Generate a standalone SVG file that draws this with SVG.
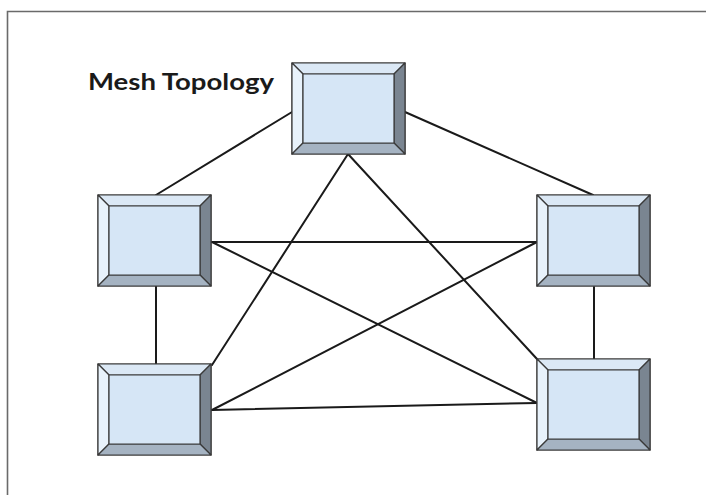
<svg xmlns="http://www.w3.org/2000/svg" width="706" height="495" viewBox="0 0 706 495">
<style>
.o{stroke:#3a3a3a;stroke-width:1.2;stroke-linejoin:round}
.t{fill:#dbe8f5}.l{fill:#e8f2fb}.r{fill:#7a8591}.b{fill:#a5b3c2}.c{fill:#d6e6f6}
.e{stroke:#1a1a1a;stroke-width:2;fill:none;stroke-linecap:round}
</style>
<defs>
<g id="node">
<rect class="o" x="0" y="0" width="113" height="91" fill="#d6e6f6"/>
<polygon class="o t" points="0,0 113,0 102,11 11,11"/>
<polygon class="o l" points="0,0 11,11 11,80 0,91"/>
<polygon class="o r" points="113,0 113,91 102,80 102,11"/>
<polygon class="o b" points="0,91 11,80 102,80 113,91"/>
<rect class="o c" x="11" y="11" width="91" height="69"/>
</g>
</defs>
<rect width="706" height="495" fill="#fff"/>
<path d="M7.5,495 V11.5 H706" stroke="#6a6a6a" stroke-width="1.6" fill="none"/>
<text x="88" y="90" font-family="Lato, 'Noto Sans', sans-serif" font-weight="bold" font-size="23" fill="#1a1a1a" textLength="186" lengthAdjust="spacingAndGlyphs">Mesh Topology</text>
<g id="connectors">
<line class="e" x1="292" y1="112" x2="156" y2="195"/>
<line class="e" x1="405" y1="112" x2="593" y2="195"/>
<line class="e" x1="348" y1="154" x2="212" y2="365"/>
<line class="e" x1="348" y1="154" x2="537" y2="359"/>
<line class="e" x1="212" y1="242" x2="537" y2="242"/>
<line class="e" x1="212" y1="242" x2="537" y2="403"/>
<line class="e" x1="537" y1="242" x2="212" y2="410"/>
<line class="e" x1="212" y1="410" x2="537" y2="403"/>
<line class="e" x1="156" y1="286" x2="156" y2="364"/>
<line class="e" x1="594" y1="287" x2="594" y2="359"/>
</g>
<g id="node-top"><use href="#node" x="292" y="63"/></g>
<g id="node-tl"><use href="#node" x="98" y="195"/></g>
<g id="node-tr"><use href="#node" x="537" y="195"/></g>
<g id="node-bl"><use href="#node" x="98" y="364"/></g>
<g id="node-br"><use href="#node" x="537" y="359"/></g>
</svg>
